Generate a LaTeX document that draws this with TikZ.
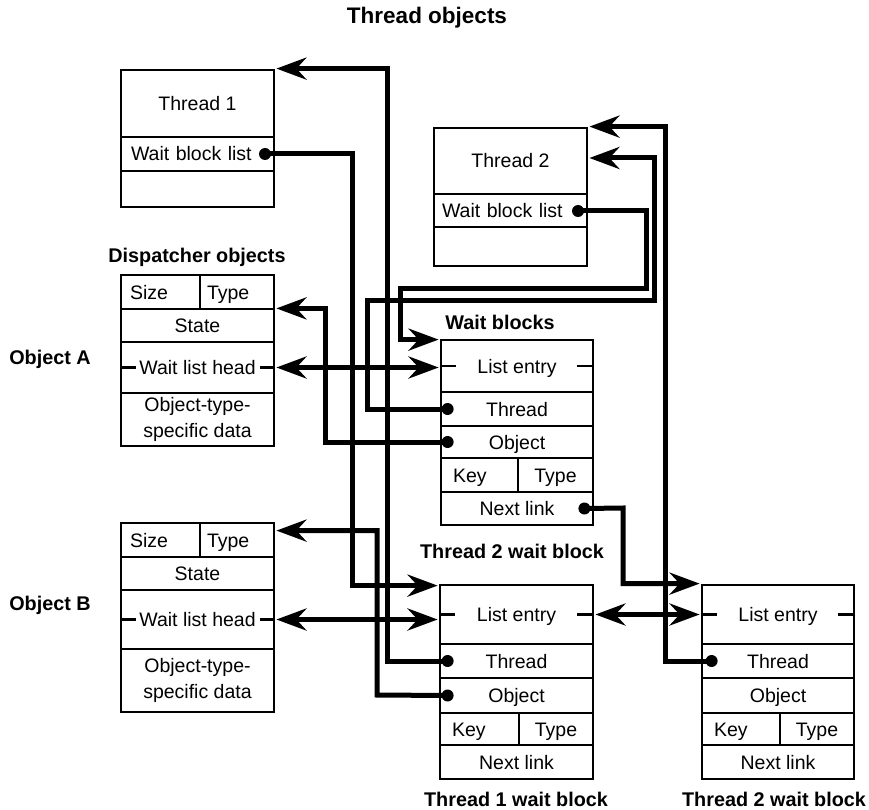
\documentclass[tikz,border=0pt]{standalone}
\usepackage{fontspec}
\setmainfont{Liberation Sans}
\usetikzlibrary{arrows.meta,calc}

\tikzset{
  big/.tip={Stealth[length=30pt,width=22pt,inset=10pt]},
  fld/.style={draw, line width=2.8pt, inner sep=0pt, align=center,
    font=\fontsize{19.5}{26}\selectfont, text height=15pt, text depth=1pt},
  multi/.style={text height=, text depth=},
  lbl/.style={inner sep=0pt, font=\fontsize{19.8}{24}\selectfont\bfseries,
    text height=15pt, text depth=1pt},
  conn/.style={line width=5pt, line join=miter, shorten >=1pt},
  dot/.style={circle, fill=black, inner sep=0pt, minimum size=12pt},
  tick/.style={line width=2.8pt},
}

% \mkfield[options]{name}{x1}{y1}{x2}{y2}{text}: one cell of a record
\newcommand\mkfield[7][]{%
  \node[fld, minimum width={(#5-#3)*1pt}, minimum height={(#6-#4)*1pt}, #1]
    (#2) at ({(#3+#5)/2},{(#4+#6)/2}) {#7};}

\begin{document}
\begin{tikzpicture}[x=1pt, y=-1pt]
\useasboundingbox (0,0) rectangle (869,810);

% headings
\node[lbl, font=\fontsize{22.5}{26}\selectfont\bfseries] (hThr) at (427,17) {Thread objects};
\node[lbl] (hDisp) at (197,255) {Dispatcher objects};
\node[lbl] (hObjA) at (50,357) {Object A};
\node[lbl] (hObjB) at (50,603) {Object B};
\node[lbl] (hWait) at (500,322) {Wait blocks};
\node[lbl] (hT2a) at (512,551) {Thread 2 wait block};
\node[lbl] (hT1) at (516,799) {Thread 1 wait block};
\node[lbl] (hT2b) at (774,799) {Thread 2 wait block};

% thread objects
\mkfield{t1n}{121}{70}{274}{137}{Thread 1}
\mkfield[align=left, text width=133pt]{t1w}{121}{137}{274}{171}{Wait block list}
\mkfield{t1x}{121}{171}{274}{207}{}
\node[dot] (t1d) at (265,154) {};

\mkfield{t2n}{434}{128}{587}{194}{Thread 2}
\mkfield[align=left, text width=137pt]{t2w}{434}{194}{587}{227}{Wait block list}
\mkfield{t2x}{434}{227}{587}{266}{}
\node[dot] (t2d) at (578,211) {};

% dispatcher objects
\mkfield[align=left, text width=61pt]{oaS}{121}{275}{200}{309}{Size}
\mkfield[align=left, text width=60pt]{oaT}{200}{275}{274}{309}{Type}
\mkfield{oaSt}{121}{309}{274}{342}{State}
\mkfield{oaH}{121}{342}{274}{393}{Wait list head}
\mkfield[multi]{oaD}{121}{393}{274}{446}{Object-type-\\specific data}

\mkfield[align=left, text width=61pt]{obS}{121}{523}{200}{557}{Size}
\mkfield[align=left, text width=60pt]{obT}{200}{523}{274}{557}{Type}
\mkfield{obSt}{121}{557}{274}{590}{State}
\mkfield{obH}{121}{590}{274}{649}{Wait list head}
\mkfield[multi]{obD}{121}{649}{274}{712}{Object-type-\\specific data}

\foreach \h in {oaH,obH}{
  \draw[tick] (\h.west) -- ++(16,0);
  \draw[tick] (\h.east) -- ++(-15,0);
}

% wait blocks
\mkfield{wAle}{441}{340}{593}{392}{List entry}
\mkfield{wAth}{441}{392}{593}{426}{Thread}
\mkfield{wAob}{441}{426}{593}{458}{Object}
\mkfield[align=left, text width=53pt]{wAk}{441}{458}{518}{492}{Key}
\mkfield{wAt}{518}{458}{593}{492}{Type}
\mkfield{wAnx}{441}{492}{593}{525}{Next link}
\node[dot] (wAtd) at ($(wAth.west)+(8,0)$) {};
\node[dot] (wAod) at ($(wAob.west)+(8,0)$) {};
\node[dot] (wAnd) at ($(wAnx.east)+(-10,0)$) {};

\mkfield{w1le}{440}{585}{593}{644}{List entry}
\mkfield{w1th}{440}{644}{593}{678}{Thread}
\mkfield{w1ob}{440}{678}{593}{713}{Object}
\mkfield[align=left, text width=55pt]{w1k}{440}{713}{519}{745}{Key}
\mkfield{w1t}{519}{713}{593}{745}{Type}
\mkfield{w1nx}{440}{745}{593}{779}{Next link}
\node[dot] (w1td) at ($(w1th.west)+(9,0)$) {};
\node[dot] (w1od) at ($(w1ob.west)+(9,0)$) {};

\mkfield{w2le}{702}{585}{854}{644}{List entry}
\mkfield{w2th}{702}{644}{854}{678}{Thread}
\mkfield{w2ob}{702}{678}{854}{713}{Object}
\mkfield[align=left, text width=54pt]{w2k}{702}{713}{780}{745}{Key}
\mkfield{w2t}{780}{713}{854}{745}{Type}
\mkfield{w2nx}{702}{745}{854}{779}{Next link}
\node[dot] (w2td) at ($(w2th.west)+(11,0)$) {};

\foreach \e in {wAle,w1le,w2le}{
  \draw[tick] (\e.west) -- ++(16,0);
  \draw[tick] (\e.east) -- ++(-17,0);
}

% pointers
\draw[conn,-big] (t1d.center) -- (352,154) |- ($(w1le.north west)+(0,2)$);
\draw[conn,-big] (w1td.center) -- (387,661) |- (t1n.north east);
\draw[conn,-big] (w1od.center) -- (377,695) |- ($(obT.north east)+(0,9)$);
\draw[conn,-big] (t2d.center) -- (646,211) -- (646,288) -- (400,288) |- ($(wAle.north west)+(0,1)$);
\draw[conn,-big] (wAtd.center) -- (367,409) -- (367,300) -- (654,300) |- ($(t2n.east)+(0,-3)$);
\draw[conn,-big] (wAod.center) -- (325,442) |- ($(oaT.south east)+(0,-2)$);
\draw[conn,-big] (wAnd.center) -- (623,508) |- (w2le.north west);
\draw[conn,-big] (w2td.center) -- (665,661) |- (t2n.north east);

% list links
\draw[conn,big-big,shorten <=1pt] (oaH.east) -- (oaH.east -| wAle.west);
\draw[conn,big-big,shorten <=1pt] (obH.east) -- (obH.east -| w1le.west);
\draw[conn,big-big,shorten <=1pt] (w1le.east) -- (w2le.west);
\end{tikzpicture}
\end{document}
